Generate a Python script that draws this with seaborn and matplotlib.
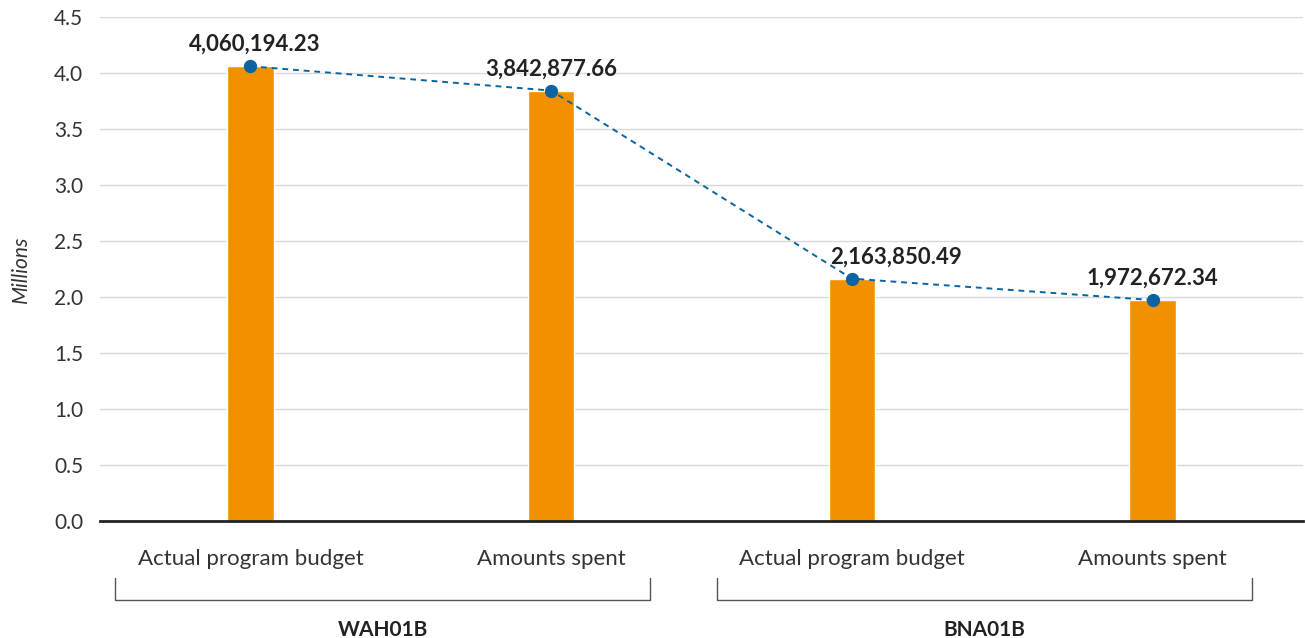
import seaborn as sns
import pandas as pd
import matplotlib.pyplot as plt
import matplotlib.transforms as mtransforms

groups = ["WAH01B", "WAH01B", "BNA01B", "BNA01B"]
items = ["Actual program budget", "Amounts spent", "Actual program budget", "Amounts spent"]
values = [4060194.23, 3842877.66, 2163850.49, 1972672.34]

df = pd.DataFrame({"group": groups, "item": items, "value": values})
df["key"] = df["group"] + "|" + df["item"]
df["millions"] = df["value"] / 1e6

sns.set_theme(style="white")
plt.rcParams['font.family'] = ['Lato', 'DejaVu Sans']

fig = plt.figure(figsize=(13.05, 6.38), dpi=100)
ax = fig.add_axes([100 / 1305, 1 - 521 / 638, 1203 / 1305, 504 / 638])

sns.barplot(data=df, x="key", y="millions", color="#f29100", width=0.155,
            saturation=1, ax=ax, zorder=2)
sns.pointplot(data=df, x="key", y="millions", color="#0a64a0", linestyle="--",
              marker="o", markersize=8.5, linewidth=1.4, ax=ax, zorder=3)

for line in ax.lines:
    line.set_dashes([3, 2.5])

# label nudges (points) so the text clears the line
label_dx = [3, 0, 32, 0]
for i, row in df.iterrows():
    ax.annotate(f"{row['value']:,.2f}", (i, row["millions"]), xytext=(label_dx[i], 8),
                textcoords="offset points", ha="center", va="bottom",
                fontsize=16, fontweight="bold", color="#222222")

ax.set_xlim(-0.5, 3.5)
ax.set_ylim(0, 4.5)
ax.set_yticks([i * 0.5 for i in range(10)])
ax.set_yticklabels([f"{i * 0.5:.1f}" for i in range(10)], fontsize=15, color="#333333")
ax.yaxis.grid(True, color="#d9d9d9", linewidth=1)
ax.set_axisbelow(True)
ax.set_xticks(range(len(items)))
ax.set_xticklabels(items, fontsize=16, color="#333333")
ax.tick_params(axis="x", length=0, pad=20)
ax.tick_params(axis="y", length=0, pad=12)
ax.set_xlabel("")
ax.set_ylabel("Millions", fontsize=15, fontstyle="italic", color="#333333", labelpad=17)

for s in ["top", "right", "left"]:
    ax.spines[s].set_visible(False)
ax.spines["bottom"].set_color("#222222")
ax.spines["bottom"].set_linewidth(2)

# group brackets under the category labels
trans = mtransforms.blended_transform_factory(ax.transData, ax.transAxes)
y_top = -57 / 504
y_bot = -79 / 504
for g in dict.fromkeys(groups):
    idx = df.index[df["group"] == g]
    x0, x1 = idx.min() - 0.45, idx.max() + 0.33
    ax.plot([x0, x0, x1, x1], [y_top, y_bot, y_bot, y_top], color="#555555",
            linewidth=1, transform=trans, clip_on=False)
    ax.text((x0 + x1) / 2, -109 / 504, g, transform=trans, ha="center", va="center",
            fontsize=15, fontweight="bold", color="#222222")

fig.savefig("out.png", dpi=100)
